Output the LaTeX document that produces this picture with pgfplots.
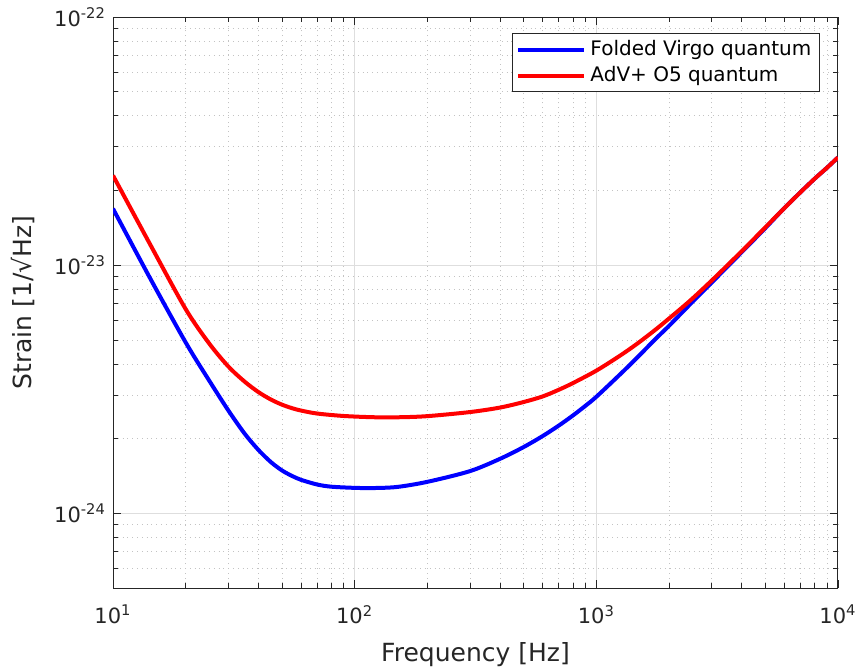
\documentclass[border=0pt]{standalone}
\usepackage{fontspec}
\setmainfont{DejaVu Sans}
\usepackage{pgfplots}
\pgfplotsset{compat=1.18}
\definecolor{axgray}{RGB}{38,38,38}
\definecolor{gridmaj}{RGB}{222,222,222}
\definecolor{gridmin}{RGB}{195,195,195}

\begin{document}
\begin{tikzpicture}
\useasboundingbox (-56.5pt,-40.5pt) rectangle (373pt,294pt);
\begin{axis}[
  at={(0,0)}, anchor=south west,
  scale only axis, width=362.5pt, height=285.5pt,
  xmode=log, ymode=log,
  xmin=10, xmax=1e4, ymin=5e-25, ymax=1e-22,
  xtick={10,100,1000,10000},
  xticklabels={10\textsuperscript{1},10\textsuperscript{2},10\textsuperscript{3},10\textsuperscript{4}},
  ytick={1e-24,1e-23,1e-22},
  yticklabels={10\textsuperscript{-24},10\textsuperscript{-23},10\textsuperscript{-22}},
  minor xtick={20,30,40,50,60,70,80,90,200,300,400,500,600,700,800,900,2000,3000,4000,5000,6000,7000,8000,9000},
  minor ytick={6e-25,7e-25,8e-25,9e-25,2e-24,3e-24,4e-24,5e-24,6e-24,7e-24,8e-24,9e-24,2e-23,3e-23,4e-23,5e-23,6e-23,7e-23,8e-23,9e-23},
  grid=both,
  major grid style={gridmaj, line width=0.5pt},
  minor grid style={gridmin, dotted, line width=0.4pt},
  tick align=inside, major tick length=4pt, minor tick length=2.5pt,
  axis line style={axgray, line width=0.5pt},
  every tick/.style={axgray, line width=0.4pt},
  tick label style={font=\fontsize{10.5}{12}\selectfont, text=axgray},
  xticklabel style={yshift=-5pt},
  label style={font=\fontsize{12.5}{15}\selectfont, text=axgray},
  xlabel style={yshift=-2pt},
  ylabel style={yshift=3pt},
  xlabel={Frequency [Hz]}, ylabel={Strain [1/√Hz]},
  legend style={at={(0.975,0.972)}, anchor=north east, draw=axgray, line width=0.5pt,
    font=\fontsize{10}{12}\selectfont, inner xsep=2pt, inner ysep=1.5pt, row sep=0pt},
  legend cell align=left,
  legend image code/.code={\draw[#1] (0pt,0pt) -- (33pt,0pt);},
]
\addplot[blue, line width=2pt, smooth, tension=0.5] coordinates {
  (10,1.69e-23) (14.2,8.91e-24) (20,4.88e-24) (25,3.43e-24) (30,2.60e-24)
  (35,2.10e-24) (40,1.80e-24) (45,1.61e-24) (50,1.49e-24) (55,1.416e-24)
  (60,1.365e-24) (70,1.307e-24) (80,1.281e-24) (100,1.267e-24) (120,1.265e-24)
  (150,1.278e-24) (200,1.34e-24) (300,1.48e-24) (400,1.66e-24) (500,1.85e-24)
  (600,2.05e-24) (700,2.26e-24) (800,2.48e-24) (900,2.71e-24) (1000,2.95e-24)
  (1253,3.63e-24) (1468,4.22e-24) (1745,5.01e-24) (2000,5.70e-24) (2440,6.95e-24)
  (3000,8.51e-24) (4000,1.13e-23) (5000,1.41e-23) (6000,1.70e-23) (7000,1.97e-23)
  (8000,2.23e-23) (9000,2.47e-23) (10000,2.72e-23)
};
\addlegendentry{Folded Virgo quantum}
\addplot[red, line width=2pt, smooth, tension=0.5] coordinates {
  (10,2.30e-23) (14.2,1.22e-23) (20,6.65e-24) (25,4.84e-24) (30,3.91e-24)
  (35,3.40e-24) (40,3.08e-24) (45,2.876e-24) (50,2.743e-24) (55,2.655e-24)
  (60,2.596e-24) (70,2.525e-24) (90,2.469e-24) (120,2.44e-24) (154,2.44e-24)
  (200,2.465e-24) (300,2.56e-24) (400,2.67e-24) (500,2.81e-24) (600,2.96e-24)
  (700,3.15e-24) (800,3.35e-24) (1000,3.76e-24) (1253,4.32e-24) (1468,4.81e-24)
  (1745,5.47e-24) (2000,6.10e-24) (2440,7.19e-24) (3000,8.67e-24) (4000,1.14e-23)
  (5000,1.42e-23) (6000,1.70e-23) (7000,1.97e-23) (8000,2.23e-23) (9000,2.47e-23)
  (10000,2.72e-23)
};
\addlegendentry{AdV+ O5 quantum}
\end{axis}
\end{tikzpicture}
\end{document}
